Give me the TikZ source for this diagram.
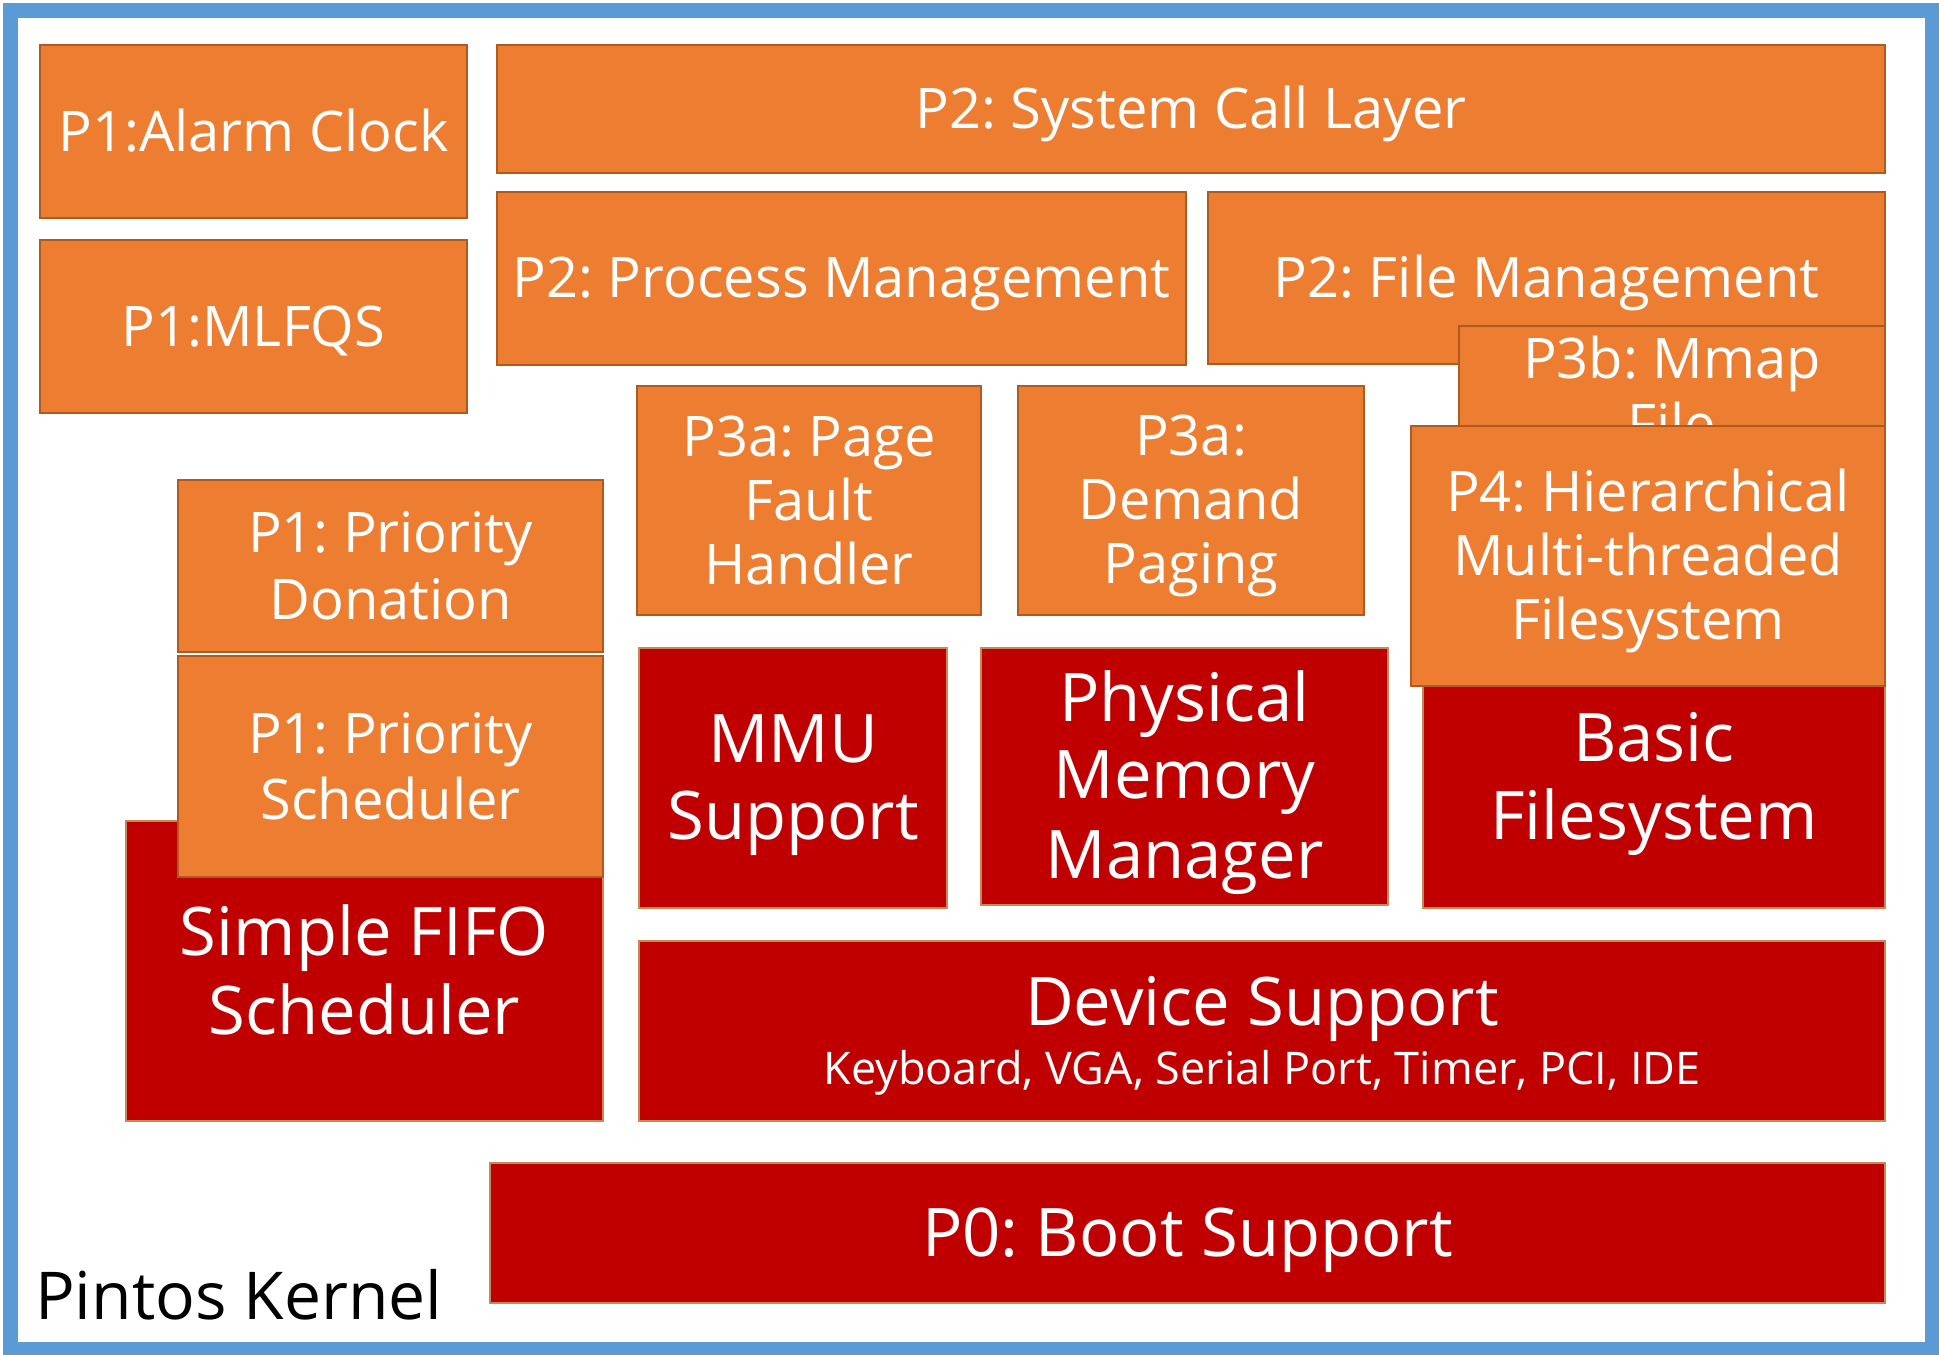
\documentclass[tikz,border=0pt]{standalone}
\usepackage{fontspec}
\setmainfont{Open Sans}
\frenchspacing
\definecolor{layerorange}{HTML}{ED7D31}
\definecolor{layerred}{HTML}{C00000}
\definecolor{orangeline}{HTML}{AE5A21}
\definecolor{redline}{HTML}{C8895A}
\definecolor{frameblue}{HTML}{5B9BD5}
\newcommand{\rowstrut}{\rule[-0.22em]{0pt}{1.15em}}
\begin{document}
\begin{tikzpicture}[
  x=1pt, y=-1pt,
  layer/.style={draw, inner sep=0pt, outer sep=0pt, anchor=north west, align=flush center, text=white,
    execute at begin node=\rowstrut, execute at end node=\rowstrut},
  dims/.style 2 args={text width=#1, minimum height=#2},
  proj/.style={layer, fill=layerorange, draw=orangeline, line width=2pt, font=\fontsize{56}{64}\selectfont},
  base/.style={layer, fill=layerred, draw=redline, line width=1.5pt, font=\fontsize{67}{77.5}\selectfont}
]
\useasboundingbox (0,0) rectangle (1939,1355);
\draw [frameblue, line width=15pt] (10,10) rectangle (1932,1349);

\node [proj, dims={427}{173}] (alarm) at (40,45) {P1:Alarm Clock};
\node [proj, dims={427}{173}] (mlfqs) at (40,240) {P1:MLFQS};
\node [proj, dims={1388}{128}] (syscall) at (497,45) {P2: System Call Layer};
\node [proj, dims={689}{173}] (process) at (497,192) {P2: Process Management};
\node [proj, dims={677}{172}] (filemgmt) at (1208,192) {P2: File Management};
\node [proj, dims={426}{127}] (mmap) at (1459,326) {P3b: Mmap\\File};
\node [proj, dims={344}{229}] (pagefault) at (637,386) {P3a: Page\\Fault\\Handler};
\node [proj, dims={346}{229}] (demand) at (1018,386) {P3a:\\Demand\\Paging};
\node [proj, dims={425}{172}] (donation) at (178,480) {P1: Priority\\Donation};

\node [base, dims={477}{300}] (fifo) at (126,821) {Simple FIFO\\Scheduler};
\node [proj, dims={425}{221}] (prio) at (178,656) {P1: Priority\\Scheduler};
\node [base, dims={308}{260}] (mmu) at (639,648) {MMU\\Support};
\node [base, dims={407}{257}] (physmem) at (981,648) {Physical\\Memory\\Manager};
\node [base, dims={462}{261}] (basicfs) at (1423,647) {Basic\\Filesystem};
\node [proj, dims={474}{260}] (hierfs) at (1411,426) {P4: Hierarchical\\Multi-threaded\\Filesystem};
\node [base, dims={1246}{180}] (device) at (639,941)
  {Device Support\\[-21pt]{\fontsize{45}{50}\selectfont Keyboard, VGA, Serial Port, Timer, PCI, IDE}};
\node [base, dims={1395}{140}] (boot) at (490,1163) {P0: Boot Support};

\node [anchor=base west, inner sep=0pt, font=\fontsize{66}{76}\selectfont] (kernel) at (35,1319) {Pintos Kernel};
\end{tikzpicture}
\end{document}
